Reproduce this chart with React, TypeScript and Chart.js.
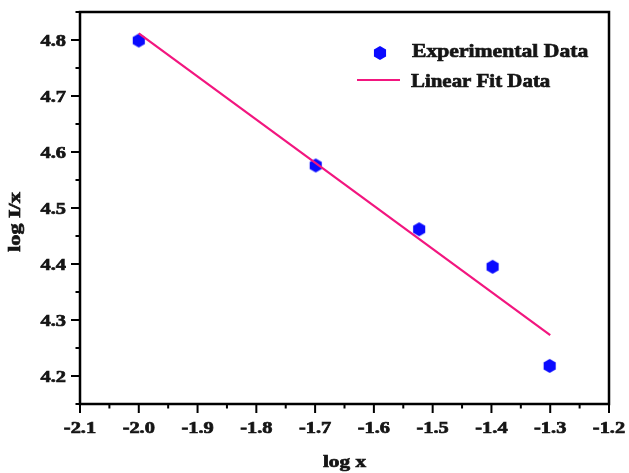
import React, { useEffect, useRef } from 'react';
import { Chart, registerables } from 'chart.js';

Chart.register(...registerables);

// ---- data ----
const expX = [-2.0, -1.699, -1.523, -1.398, -1.301];
const expY = [4.799, 4.576, 4.462, 4.395, 4.218];
const fitX = [-2.0, -1.3];
const fitY = [4.812, 4.273];

const xTicks = [-2.1, -2.0, -1.9, -1.8, -1.7, -1.6, -1.5, -1.4, -1.3, -1.2];
const yTicks = [4.2, 4.3, 4.4, 4.5, 4.6, 4.7, 4.8];
const xMinorTicks = [-2.05, -1.95, -1.85, -1.75, -1.65, -1.55, -1.45, -1.35, -1.25];
const yMinorTicks = [4.15, 4.25, 4.35, 4.45, 4.55, 4.65, 4.75, 4.85];

const xTitle = 'log x';
const yTitle = 'log I/x';
const legendLabels = ['Experimental Data', 'Linear Fit Data'];

const POINT_COLOR = '#0a0aff';
const LINE_COLOR = '#f2167f';
const TEXT_COLOR = '#151515';
const FONT_FAMILY = '"Liberation Serif", "Times New Roman", serif';

function hexCanvas(r: number, color: string) {
  const s = Math.ceil(r * 2) + 2;
  const c = document.createElement('canvas');
  c.width = s;
  c.height = s;
  const g = c.getContext('2d')!;
  g.fillStyle = color;
  g.beginPath();
  for (let k = 0; k < 6; k++) {
    const a = -Math.PI / 2 + (k * Math.PI) / 3;
    const px = s / 2 + r * Math.cos(a);
    const py = s / 2 + r * Math.sin(a);
    if (k === 0) g.moveTo(px, py);
    else g.lineTo(px, py);
  }
  g.closePath();
  g.fill();
  return c;
}

function sText(
  ctx: CanvasRenderingContext2D,
  t: string,
  x: number,
  y: number,
  size: number,
  sx: number,
  align: 'left' | 'center' | 'right'
) {
  ctx.save();
  ctx.font = `bold ${size}px ${FONT_FAMILY}`;
  ctx.textBaseline = 'alphabetic';
  ctx.textAlign = 'left';
  ctx.fillStyle = TEXT_COLOR;
  ctx.strokeStyle = TEXT_COLOR;
  ctx.lineWidth = 0.7;
  const w = ctx.measureText(t).width * sx;
  const x0 = align === 'center' ? x - w / 2 : align === 'right' ? x - w : x;
  ctx.translate(x0, y);
  ctx.scale(sx, 1);
  ctx.fillText(t, 0, 0);
  ctx.strokeText(t, 0, 0);
  ctx.restore();
}

export default function App() {
  const ref = useRef<HTMLCanvasElement>(null);

  useEffect(() => {
    document.body.style.margin = '0';
    const hex = hexCanvas(7, POINT_COLOR);

    const axesPlugin = {
      id: 'customAxes',
      beforeDatasetsDraw(chart: any) {
        const { ctx, chartArea: a, scales } = chart;
        const x = scales.x;
        const y = scales.y;
        ctx.save();
        ctx.strokeStyle = '#000';
        ctx.lineWidth = 2;
        ctx.beginPath();
        xTicks.forEach((v) => {
          const px = x.getPixelForValue(v);
          ctx.moveTo(px, a.bottom);
          ctx.lineTo(px, a.bottom + 9);
        });
        xMinorTicks.forEach((v) => {
          const px = x.getPixelForValue(v);
          ctx.moveTo(px, a.bottom);
          ctx.lineTo(px, a.bottom + 4.5);
        });
        yTicks.forEach((v) => {
          const py = y.getPixelForValue(v);
          ctx.moveTo(a.left, py);
          ctx.lineTo(a.left - 9, py);
        });
        yMinorTicks.forEach((v) => {
          const py = y.getPixelForValue(v);
          ctx.moveTo(a.left, py);
          ctx.lineTo(a.left - 4.5, py);
        });
        ctx.stroke();

        ctx.lineWidth = 2.5;
        ctx.strokeRect(a.left, a.top, a.right - a.left, a.bottom - a.top);

        // tick labels
        xTicks.forEach((v) => {
          const px = x.getPixelForValue(v);
          sText(ctx, v.toFixed(1), px, a.bottom + 29, 17, 1.2, 'center');
        });
        yTicks.forEach((v) => {
          const py = y.getPixelForValue(v);
          sText(ctx, v.toFixed(1), a.left - 14, py + 6, 17, 1.2, 'right');
        });

        // axis titles
        sText(ctx, xTitle, (a.left + a.right) / 2, a.bottom + 63, 17, 1.25, 'center');
        ctx.save();
        ctx.font = `bold 17px ${FONT_FAMILY}`;
        const w0 = ctx.measureText(yTitle).width;
        ctx.translate(20, (a.top + a.bottom) / 2 + 14);
        ctx.rotate(-Math.PI / 2);
        ctx.scale(1.3, 1);
        ctx.textBaseline = 'alphabetic';
        ctx.fillStyle = TEXT_COLOR;
        ctx.strokeStyle = TEXT_COLOR;
        ctx.lineWidth = 0.7;
        ctx.fillText(yTitle, -w0 / 2, 0);
        ctx.strokeText(yTitle, -w0 / 2, 0);
        ctx.restore();
        ctx.restore();
      },
      afterDatasetsDraw(chart: any) {
        const { ctx, chartArea: a } = chart;
        ctx.save();
        // legend entry 1: hexagon marker
        ctx.drawImage(hex, a.left + 300 - hex.width / 2, a.top + 41 - hex.height / 2);
        sText(ctx, legendLabels[0], a.left + 332, a.top + 45, 19, 1.14, 'left');
        // legend entry 2: line
        ctx.strokeStyle = LINE_COLOR;
        ctx.lineWidth = 2.2;
        ctx.beginPath();
        ctx.moveTo(a.left + 277, a.top + 68);
        ctx.lineTo(a.left + 320, a.top + 68);
        ctx.stroke();
        sText(ctx, legendLabels[1], a.left + 331, a.top + 75, 19, 1.1, 'left');
        ctx.restore();
      },
    };

    const chart = new Chart(ref.current!, {
      type: 'scatter',
      data: {
        datasets: [
          {
            label: legendLabels[1],
            type: 'line',
            data: fitX.map((v, i) => ({ x: v, y: fitY[i] })),
            borderColor: LINE_COLOR,
            borderWidth: 2.2,
            pointRadius: 0,
            fill: false,
          },
          {
            label: legendLabels[0],
            data: expX.map((v, i) => ({ x: v, y: expY[i] })),
            pointStyle: hex as any,
            pointRadius: 7,
            backgroundColor: POINT_COLOR,
            borderColor: POINT_COLOR,
          },
        ],
      },
      options: {
        animation: false,
        responsive: false,
        layout: { padding: { left: 80, top: 12, right: 20, bottom: 69 } },
        plugins: { legend: { display: false }, tooltip: { enabled: false } },
        scales: {
          x: { type: 'linear', min: -2.1, max: -1.2, display: false },
          y: { type: 'linear', min: 4.15, max: 4.85, display: false },
        },
      },
      plugins: [axesPlugin],
    });
    return () => chart.destroy();
  }, []);

  return (
    <div style={{ width: 629, height: 473, background: '#fff' }}>
      <canvas ref={ref} width={629} height={473} style={{ width: 629, height: 473, display: 'block' }} />
    </div>
  );
}
